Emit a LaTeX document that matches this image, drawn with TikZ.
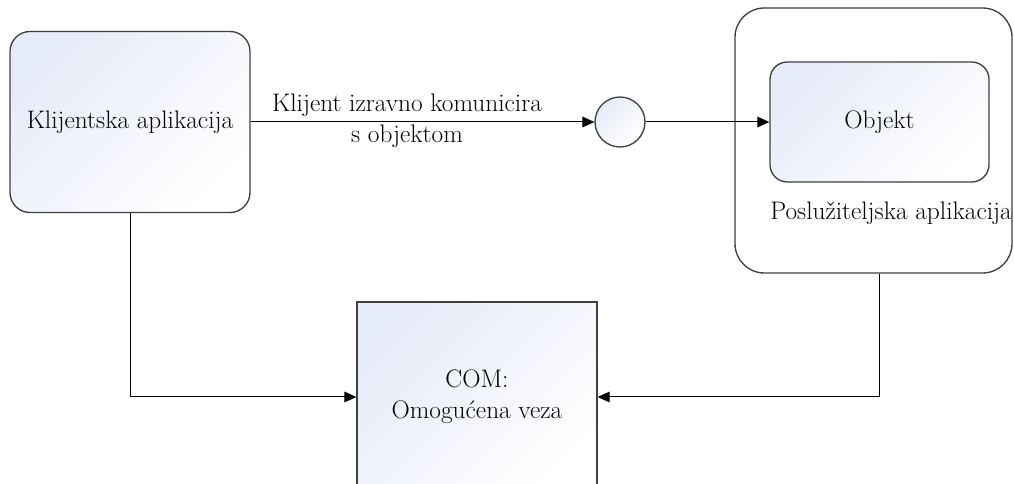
\documentclass[tikz,border=0pt]{standalone}
\usepackage{fontspec}
\usepackage{tikz}
\usetikzlibrary{positioning, calc}
\usetikzlibrary{arrows, arrows.meta}
\tikzset{>={Triangle[length=9pt,width=8pt]}}
\definecolor{boxtint}{RGB}{230,235,248}
\tikzset{
  tinted/.style={shade, top color=boxtint, bottom color=white, shading angle=45},
  box/.style={draw=black!75, line width=1pt, tinted, align=center},
  conn/.style={->, line width=0.75pt}
}

\begin{document}
\begin{tikzpicture}[x=0.75pt, y=0.75pt, font=\fontsize{19}{23.5}\selectfont]
  \useasboundingbox (0,0) rectangle (1014,-484);
  \clip (0,0) rectangle (1014,-484);
  % Applications
  \node[box, rounded corners=15pt, minimum width=180pt, minimum height=135.75pt] (client) at (130,-122) {Klijentska aplikacija};
  \node[draw=black!75, line width=1pt, fill=white, rounded corners=22pt, minimum width=207.75pt, minimum height=198.75pt] (server) at (873.5,-140.5) {};
  \node[box, rounded corners=13pt, minimum width=164.25pt, minimum height=90pt] (objekt) at (879.5,-122) {Objekt};
  \node (srvlbl) at (891,-213) {Poslužiteljska aplikacija};

  % Interface and COM
  \node[circle, draw=black!75, line width=1pt, tinted, minimum size=37.5pt, inner sep=0pt] (hub) at (620,-122) {};
  \node[box, minimum width=180pt, minimum height=142.5pt] (com) at (477,-397) {COM:\\Omogućena veza};

  % Arrows
  \draw[conn] (client) -- node[pos=0.455, align=center, yshift=1pt] (direct) {Klijent izravno komunicira\\s objektom} (hub);
  \draw[conn] (hub) -- (objekt);
  \draw[conn] (client.south) |- (com.west);
  \draw[conn] (server.south -| objekt) |- (com.east);
\end{tikzpicture}
\end{document}
